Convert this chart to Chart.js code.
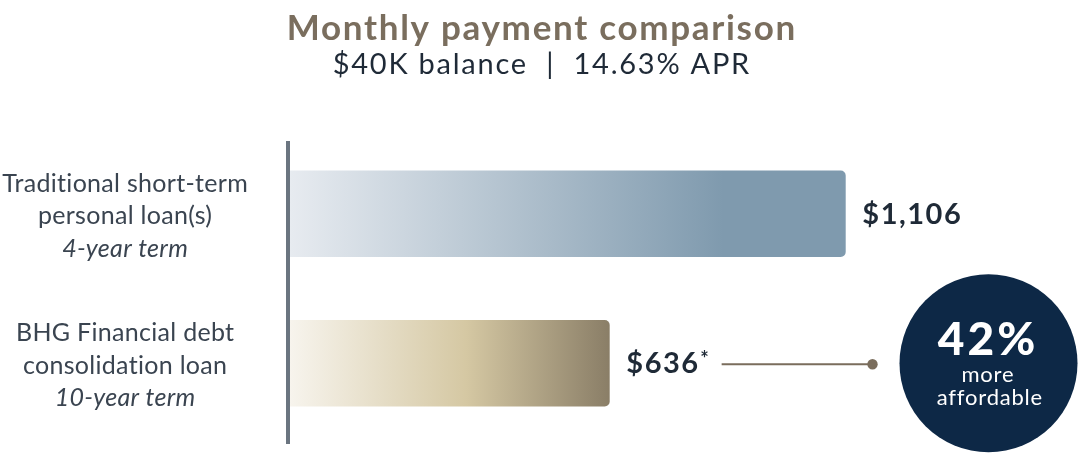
<!DOCTYPE html>
<html>
<head>
<meta charset="utf-8">
<script src="https://cdn.jsdelivr.net/npm/chart.js@4/dist/chart.umd.min.js"></script>
<style>
html,body{margin:0;padding:0;background:#fff;}
#wrap{width:1080px;height:463px;position:relative;}
</style>
</head>
<body>
<div id="wrap"><canvas id="c" width="1080" height="463"></canvas></div>
<script>
const categories = ["Traditional short-term personal loan(s)", "BHG Financial debt consolidation loan"];
const labelLines = [["Traditional short-term", "personal loan(s)"], ["BHG Financial debt", "consolidation loan"]];
const termLabels = ["4-year term", "10-year term"];
const payments = [1106, 636];
const valueLabels = ["$1,106", "$636"];
const valueMarks = ["", "*"];
const titleText = "Monthly payment comparison";
const subtitleText = "$40K balance  |  14.63% APR";
const calloutBig = "42%";
const calloutSmall = ["more", "affordable"];

const FONT = "Lato, 'Open Sans', sans-serif";
const gradStops = [
  [[0, "#e7ebf0"], [0.78, "#7f9aae"], [1, "#7f9aae"]],
  [[0, "#f7f4ed"], [0.55, "#d5c8a3"], [1, "#8a7e67"]]
];

function barColor(ctx) {
  const chart = ctx.chart;
  const area = chart.chartArea;
  if (!area) return "#ccc";
  const xs = chart.scales.x;
  const x1 = xs.getPixelForValue(payments[ctx.dataIndex]);
  const g = chart.ctx.createLinearGradient(area.left, 0, x1, 0);
  gradStops[ctx.dataIndex].forEach(s => g.addColorStop(s[0], s[1]));
  return g;
}

function spaced(c, text, x, y, ls, align) {
  c.letterSpacing = ls + "px";
  const w = c.measureText(text).width - ls;
  let sx = x;
  if (align === "center") sx = x - w / 2;
  c.textAlign = "left";
  c.fillText(text, sx, y);
  return w;
}

const annot = {
  id: "annot",
  afterDatasetsDraw(chart) {
    const c = chart.ctx;
    const area = chart.chartArea;
    const xs = chart.scales.x, ys = chart.scales.y;
    c.save();
    c.textBaseline = "alphabetic";
    // title & subtitle
    c.fillStyle = "#7a6e5e";
    c.font = "700 35px " + FONT;
    spaced(c, titleText, 541, 39.5, 1.7, "center");
    c.fillStyle = "#1f2a37";
    c.font = "400 29px " + FONT;
    spaced(c, subtitleText, 541, 74, 1.75, "center");
    // axis line
    c.fillStyle = "#6b7580";
    c.fillRect(area.left - 4, area.top + 2, 4, area.bottom - area.top + 4);
    // category labels
    c.fillStyle = "#3a4450";
    categories.forEach((cat, i) => {
      const yc = ys.getPixelForValue(i);
      const lines = labelLines[i];
      c.font = "400 25px " + FONT;
      spaced(c, lines[0], 125, yc - 22, 0.3, "center");
      spaced(c, lines[1], 125, yc + 10.5, 0.3, "center");
      c.font = "italic 400 25px " + FONT;
      spaced(c, termLabels[i], 125, yc + 43, 0.3, "center");
    });
    // value labels
    const ends = [];
    payments.forEach((v, i) => {
      const yc = ys.getPixelForValue(i);
      const xe = xs.getPixelForValue(v);
      c.font = "700 29px " + FONT;
      c.fillStyle = "#1f2a37";
      const tx = xe + 17;
      let w = spaced(c, valueLabels[i], tx, yc + 10, 1.5, "left");
      if (valueMarks[i]) {
        c.font = "700 20px " + FONT;
        spaced(c, valueMarks[i], tx + w + 2, yc + 3, 0, "left");
        w += c.measureText(valueMarks[i]).width + 2;
      }
      ends.push([tx + w, yc]);
    });
    // connector line
    const [lx, ly] = ends[1];
    const dotX = 872.5;
    c.strokeStyle = "#7a6d5c";
    c.lineWidth = 2;
    c.beginPath();
    c.moveTo(lx + 13, ly + 1);
    c.lineTo(dotX, ly + 1);
    c.stroke();
    c.fillStyle = "#7a6d5c";
    c.beginPath();
    c.arc(dotX, ly + 1, 5.2, 0, Math.PI * 2);
    c.fill();
    // circle callout
    const cx = 988.5, cy = ly, r = 89;
    c.fillStyle = "#0d2846";
    c.beginPath();
    c.arc(cx, cy, r, 0, Math.PI * 2);
    c.fill();
    c.fillStyle = "#ffffff";
    c.font = "900 46px " + FONT;
    spaced(c, calloutBig, cx - 2, cy - 8, 3, "center");
    c.font = "400 22px " + FONT;
    spaced(c, calloutSmall[0], cx - 1, cy + 18.5, 0.8, "center");
    spaced(c, calloutSmall[1], cx + 1, cy + 42, 0.8, "center");
    c.restore();
  }
};

new Chart(document.getElementById("c"), {
  type: "bar",
  data: {
    labels: categories,
    datasets: [{
      data: payments,
      backgroundColor: barColor,
      borderRadius: 5,
      borderSkipped: "start",
      barThickness: 86
    }]
  },
  options: {
    indexAxis: "y",
    responsive: false,
    animation: false,
    devicePixelRatio: 1,
    layout: { padding: { left: 290, right: 87, top: 139, bottom: 25 } },
    scales: {
      x: { display: false, min: 0, max: 1400 },
      y: { display: false }
    },
    plugins: {
      legend: { display: false },
      tooltip: { enabled: false },
      title: { display: false },
      subtitle: { display: false }
    }
  },
  plugins: [annot]
});
</script>
</body>
</html>
